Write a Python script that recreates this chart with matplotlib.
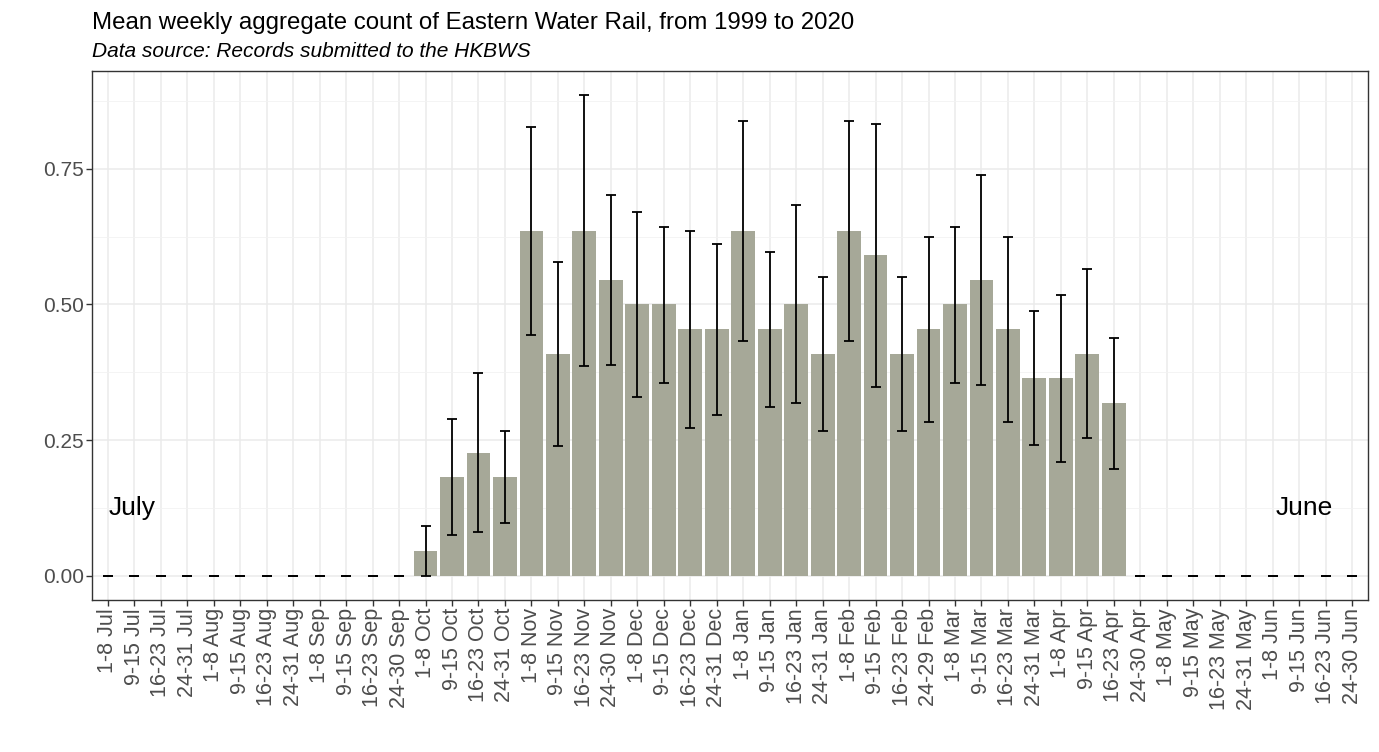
import numpy as np
import matplotlib.pyplot as plt

plt.rcParams['font.family'] = ['Liberation Sans', 'DejaVu Sans']

weeks = ['1-8 Jul', '9-15 Jul', '16-23 Jul', '24-31 Jul',
         '1-8 Aug', '9-15 Aug', '16-23 Aug', '24-31 Aug',
         '1-8 Sep', '9-15 Sep', '16-23 Sep', '24-30 Sep',
         '1-8 Oct', '9-15 Oct', '16-23 Oct', '24-31 Oct',
         '1-8 Nov', '9-15 Nov', '16-23 Nov', '24-30 Nov',
         '1-8 Dec', '9-15 Dec', '16-23 Dec', '24-31 Dec',
         '1-8 Jan', '9-15 Jan', '16-23 Jan', '24-31 Jan',
         '1-8 Feb', '9-15 Feb', '16-23 Feb', '24-29 Feb',
         '1-8 Mar', '9-15 Mar', '16-23 Mar', '24-31 Mar',
         '1-8 Apr', '9-15 Apr', '16-23 Apr', '24-30 Apr',
         '1-8 May', '9-15 May', '16-23 May', '24-31 May',
         '1-8 Jun', '9-15 Jun', '16-23 Jun', '24-30 Jun']

# mean counts (22 seasons)
mean = [0, 0, 0, 0, 0, 0, 0, 0, 0, 0, 0, 0,
        0.045, 0.182, 0.227, 0.182,
        0.636, 0.409, 0.636, 0.545,
        0.500, 0.500, 0.455, 0.455,
        0.636, 0.455, 0.500, 0.409,
        0.636, 0.591, 0.409, 0.455,
        0.500, 0.545, 0.455, 0.364,
        0.364, 0.409, 0.318, 0,
        0, 0, 0, 0, 0, 0, 0, 0]

lower = [0, 0, 0, 0, 0, 0, 0, 0, 0, 0, 0, 0,
         0.000, 0.075, 0.081, 0.098,
         0.444, 0.239, 0.386, 0.388,
         0.329, 0.356, 0.272, 0.297,
         0.432, 0.311, 0.318, 0.267,
         0.432, 0.348, 0.267, 0.284,
         0.356, 0.351, 0.284, 0.240,
         0.209, 0.253, 0.197, 0,
         0, 0, 0, 0, 0, 0, 0, 0]

upper = [0, 0, 0, 0, 0, 0, 0, 0, 0, 0, 0, 0,
         0.092, 0.288, 0.373, 0.266,
         0.827, 0.578, 0.886, 0.701,
         0.670, 0.643, 0.636, 0.611,
         0.838, 0.597, 0.683, 0.551,
         0.838, 0.833, 0.551, 0.625,
         0.643, 0.738, 0.625, 0.488,
         0.517, 0.565, 0.439, 0,
         0, 0, 0, 0, 0, 0, 0, 0]

mean = np.array(mean)
lower = np.array(lower)
upper = np.array(upper)
x = np.arange(len(weeks))

fig = plt.figure(figsize=(13.79, 7.52), dpi=100)
ax = fig.add_axes([0.0667, 0.2025, 0.9253, 0.7031])

ax.bar(x, mean, width=0.9, color='#a6a898', zorder=2)
ax.errorbar(x, mean, yerr=[mean - lower, upper - mean], fmt='none',
            ecolor='black', elinewidth=1.3, capsize=3.8, capthick=1.3, zorder=3)

ax.set_xlim(-0.6, len(weeks) - 0.4)
ymax = upper.max()
ax.set_ylim(-0.05 * ymax, 1.05 * ymax)

ax.set_xticks(x)
ax.set_xticklabels(weeks, rotation=90, fontsize=15.5, color='#4d4d4d')
ax.set_yticks([0, 0.25, 0.5, 0.75])
ax.set_yticklabels(['0.00', '0.25', '0.50', '0.75'], fontsize=15, color='#4d4d4d')
ax.set_yticks([0.125, 0.375, 0.625, 0.875], minor=True)
ax.tick_params(axis='both', which='major', length=4, width=1, color='#333333', pad=2)
ax.tick_params(axis='y', which='minor', length=0)

ax.grid(True, which='major', color='#ebebeb', linewidth=1.1, zorder=0)
ax.grid(True, which='minor', axis='y', color='#f2f2f2', linewidth=0.6, zorder=0)
ax.set_axisbelow(True)
for s in ax.spines.values():
    s.set_color('#333333')
    s.set_linewidth(1.0)

ax.text(0.9, 0.125, 'July', fontsize=19, ha='center', va='center')
ax.text(45.2, 0.125, 'June', fontsize=19, ha='center', va='center')

fig.text(0.0667, 1 - 29 / 752, 'Mean weekly aggregate count of Eastern Water Rail, from 1999 to 2020',
         fontsize=17.3, ha='left', va='baseline')
fig.text(0.0667, 1 - 57 / 752, 'Data source: Records submitted to the HKBWS',
         fontsize=15, style='italic', ha='left', va='baseline')

plt.savefig('out.png', dpi=100)
